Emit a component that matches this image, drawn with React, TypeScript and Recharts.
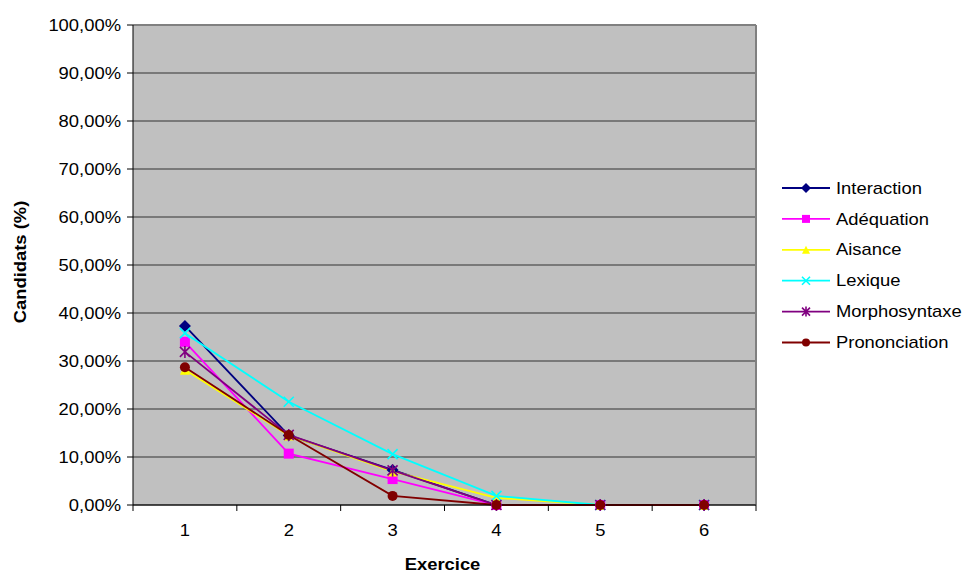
import { CartesianGrid, Legend, Line, LineChart, ReferenceLine, XAxis, YAxis } from "recharts"

const exercices = [1, 2, 3, 4, 5, 6]
const interaction = [37.3, 14.5, 7.3, 0, 0, 0]
const adequation = [34.0, 10.7, 5.4, 0, 0, 0]
const aisance = [28.2, 14.5, 7.0, 1.5, 0, 0]
const lexique = [35.8, 21.5, 10.6, 1.9, 0, 0]
const morphosyntaxe = [31.9, 14.6, 7.2, 0, 0, 0]
const prononciation = [28.7, 14.6, 1.9, 0, 0, 0]
const yTicks = [0, 10, 20, 30, 40, 50, 60, 70, 80, 90, 100]
const xTicks = [0.5, 1, 1.5, 2, 2.5, 3, 3.5, 4, 4.5, 5, 5.5, 6, 6.5]

const series = [
  { key: "Interaction", values: interaction, color: "#000080", shape: "diamond" },
  { key: "Adéquation", values: adequation, color: "#FF00FF", shape: "square" },
  { key: "Aisance", values: aisance, color: "#FFFF00", shape: "triangle" },
  { key: "Lexique", values: lexique, color: "#00FFFF", shape: "x" },
  { key: "Morphosyntaxe", values: morphosyntaxe, color: "#800080", shape: "star" },
  { key: "Prononciation", values: prononciation, color: "#800000", shape: "circle" },
]

const data = exercices.map((ex, i) => {
  const row: Record<string, number> = { ex }
  series.forEach((s) => (row[s.key] = s.values[i]))
  return row
})

const FONT = "'Liberation Sans', Arial, sans-serif"
const STRETCH = 1.15

const Marker = ({ shape, cx, cy, color, size = 1 }: any) => {
  const s = 5 * size
  switch (shape) {
    case "diamond":
      return <path d={`M${cx},${cy - s - 1}L${cx + s + 1},${cy}L${cx},${cy + s + 1}L${cx - s - 1},${cy}Z`} fill={color} />
    case "square":
      return <rect x={cx - s} y={cy - s} width={2 * s} height={2 * s} fill={color} />
    case "triangle":
      return <path d={`M${cx},${cy - s}L${cx + s},${cy + s}L${cx - s},${cy + s}Z`} fill={color} />
    case "x":
      return (
        <path d={`M${cx - s},${cy - s}L${cx + s},${cy + s}M${cx - s},${cy + s}L${cx + s},${cy - s}`} stroke={color} strokeWidth={1.6} />
      )
    case "star":
      return (
        <path
          d={`M${cx - s},${cy - s}L${cx + s},${cy + s}M${cx - s},${cy + s}L${cx + s},${cy - s}M${cx},${cy - s - 1}L${cx},${cy + s + 1}`}
          stroke={color}
          strokeWidth={1.6}
        />
      )
    default:
      return <circle cx={cx} cy={cy} r={s} fill={color} />
  }
}

const YTick = ({ x, y, payload }: any) => (
  <g transform={`translate(${x},${y})`}>
    <text transform={`scale(${STRETCH},1)`} textAnchor="end" dy="0.35em" fontSize={16} fontFamily={FONT} fill="#000">
      {payload.value.toFixed(2).replace(".", ",") + "%"}
    </text>
  </g>
)

const XTick = ({ x, y, payload }: any) => {
  const v = payload.value
  if (!Number.isInteger(v)) {
    return <line x1={x} x2={x} y1={505} y2={511} stroke="#000" />
  }
  return (
    <g transform={`translate(${x},${y})`}>
      <text transform={`scale(${STRETCH},1)`} textAnchor="middle" dy="0.35em" fontSize={16} fontFamily={FONT} fill="#000">
        {v}
      </text>
    </g>
  )
}

const LegendContent = () => (
  <svg width={193} height={190}>
    {series.map((s, i) => {
      const cy = 18 + i * 30.9
      return (
        <g key={s.key}>
          <line x1={7} x2={55} y1={cy} y2={cy} stroke={s.color} strokeWidth={1.8} />
          <Marker shape={s.shape} cx={31} cy={cy} color={s.color} size={0.8} />
          <g transform={`translate(61,${cy})`}>
            <text transform={`scale(${STRETCH},1)`} dy="0.35em" fontSize={16} fontFamily={FONT} fill="#000">
              {s.key}
            </text>
          </g>
        </g>
      )
    })}
  </svg>
)

export default function App() {
  return (
    <div style={{ position: "absolute", left: 0, top: 0, width: 968, height: 572, background: "#fff" }}>
      <LineChart width={968} height={572} data={data} margin={{ top: 25, right: 212, bottom: 0, left: 0 }}>
        <CartesianGrid horizontal vertical={false} fill="#C0C0C0" stroke="#333" strokeWidth={1} />
        <ReferenceLine y={100} stroke="#808080" strokeWidth={2} />
        <ReferenceLine x={6.5} stroke="#808080" strokeWidth={2} />
        <XAxis
          dataKey="ex"
          type="number"
          domain={[0.5, 6.5]}
          ticks={xTicks}
          interval={0}
          height={67}
          stroke="#000"
          tickLine={false}
          tickSize={6}
          tickMargin={19}
          tick={<XTick />}
          label={{
            content: ({ viewBox }: any) => (
              <g transform={`translate(${viewBox.x + viewBox.width / 2 - 2},564)`}>
                <text transform={`scale(${STRETCH},1)`} textAnchor="middle" dy="0.35em" fontSize={16} fontWeight="bold" fontFamily={FONT}>
                  Exercice
                </text>
              </g>
            ),
          }}
        />
        <YAxis
          type="number"
          domain={[0, 100]}
          ticks={yTicks}
          interval={0}
          width={133}
          stroke="#000"
          tickSize={6}
          tickMargin={6}
          tick={<YTick />}
          label={{
            content: ({ viewBox }: any) => (
              <g transform={`translate(20,${viewBox.y + viewBox.height / 2 - 3}) rotate(-90)`}>
                <text transform={`scale(${STRETCH},1)`} textAnchor="middle" dy="0.35em" fontSize={16} fontWeight="bold" fontFamily={FONT}>
                  Candidats (%)
                </text>
              </g>
            ),
          }}
        />
        <Legend
          layout="vertical"
          align="center"
          verticalAlign="middle"
          wrapperStyle={{ left: 775, top: 170, width: 193 }}
          content={<LegendContent />}
        />
        {series.map((s) => (
          <Line
            key={s.key}
            dataKey={s.key}
            name={s.key}
            stroke={s.color}
            strokeWidth={1.8}
            isAnimationActive={false}
            dot={(props: any) => <Marker key={`${s.key}-${props.index}`} shape={s.shape} cx={props.cx} cy={props.cy} color={s.color} />}
            activeDot={false}
          />
        ))}
      </LineChart>
    </div>
  )
}
